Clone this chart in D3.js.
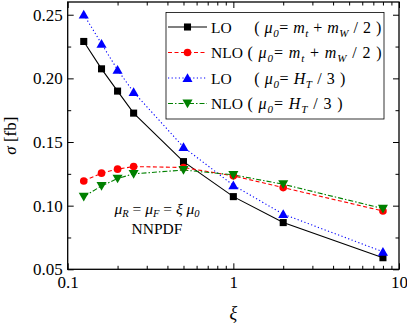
<!DOCTYPE html>
<html><head><meta charset="utf-8">
<script src="https://cdn.jsdelivr.net/npm/d3@7"></script>
<style>
html,body{margin:0;padding:0;background:#fff;}
svg{display:block;}
svg text{font-family:"Liberation Serif","Times New Roman",serif;}
</style></head>
<body><svg id="c" width="407" height="324"></svg>
<script>
const xi = [0.125, 0.16, 0.2, 0.25, 0.5, 1, 2, 8];
const loMt  = [0.229, 0.2075, 0.190, 0.1727, 0.1346, 0.1071, 0.0867, 0.0591];
const nloMt = [0.1194, 0.1255, 0.1287, 0.1307, 0.1300, 0.1234, 0.1142, 0.0958];
const loHt  = [0.2502, 0.2272, 0.2067, 0.1892, 0.1460, 0.1160, 0.0933, 0.0638];
const nloHt = [0.1071, 0.1155, 0.1213, 0.1250, 0.1280, 0.1242, 0.1168, 0.0977];
const xMajor = [0.1, 1, 10];
const xMajorLabels = ["0.1", "1", "10"];
const yMajor = [0.05, 0.10, 0.15, 0.20, 0.25];
const yMajorLabels = ["0.05", "0.10", "0.15", "0.20", "0.25"];
const seriesNames = ["LO", "NLO", "LO", "NLO"];

const L = 67.7, R = 399, T = 2, B = 269.3;
const svg = d3.select("#c");
const x = d3.scaleLog().domain([0.1, 10]).range([L, R]);
const y = d3.scaleLinear().domain([0.05, 0.26]).range([B, T]);

const series = [
  {name: seriesNames[0], vals: loMt, color: "#000000", dash: null, sym: d3.symbolSquare, size: 50, rot: 0, mu: "mt", px: 254.3, len: 127},
  {name: seriesNames[1], vals: nloMt, color: "#ff0000", dash: "4,2.5", sym: d3.symbolCircle, size: 46, rot: 0, mu: "mt", px: 247.5, len: 134},
  {name: seriesNames[2], vals: loHt, color: "#0000ff", dash: "1.2,2.4", sym: d3.symbolTriangle, size: 44, rot: 0, mu: "ht", px: 254.3, len: 91},
  {name: seriesNames[3], vals: nloHt, color: "#008000", dash: "5,2,1.5,2", sym: d3.symbolTriangle, size: 44, rot: 180, mu: "ht", px: 247.5, len: 95}
];

const xMinor = [];
[0.1, 1].forEach(d => { for (let k = 2; k <= 9; k++) xMinor.push(d * k); });
const yMinor = [0.075, 0.125, 0.175, 0.225];

const g = svg.append("g");
function inwardAxis(axisGen, transform) {
  const a = g.append("g").attr("transform", transform).call(axisGen);
  a.attr("font-family", null).attr("font-size", null);
  a.select(".domain").remove();
  a.selectAll("line").attr("stroke", "#000").attr("stroke-width", 1);
  return a;
}
const bMaj = inwardAxis(d3.axisBottom(x).tickValues(xMajor).tickSize(-6).tickFormat((d,i)=>xMajorLabels[i]).tickPadding(7), `translate(0,${B})`);
bMaj.selectAll("text").attr("font-size", 17).attr("fill", "#000");
inwardAxis(d3.axisBottom(x).tickValues(xMinor).tickSize(-3.5).tickFormat(""), `translate(0,${B})`);
inwardAxis(d3.axisTop(x).tickValues(xMajor).tickSize(-6).tickFormat(""), `translate(0,${T})`);
inwardAxis(d3.axisTop(x).tickValues(xMinor).tickSize(-3.5).tickFormat(""), `translate(0,${T})`);
const lMaj = inwardAxis(d3.axisLeft(y).tickValues(yMajor).tickSize(-6).tickFormat((d,i)=>yMajorLabels[i]).tickPadding(5), `translate(${L},0)`);
lMaj.selectAll("text").attr("font-size", 17).attr("fill", "#000");
inwardAxis(d3.axisLeft(y).tickValues(yMinor).tickSize(-3.5).tickFormat(""), `translate(${L},0)`);
inwardAxis(d3.axisRight(y).tickValues(yMajor).tickSize(-6).tickFormat(""), `translate(${R},0)`);
inwardAxis(d3.axisRight(y).tickValues(yMinor).tickSize(-3.5).tickFormat(""), `translate(${R},0)`);

g.append("rect").attr("x", L).attr("y", T).attr("width", R - L).attr("height", B - T)
  .attr("fill", "none").attr("stroke", "#000").attr("stroke-width", 1.3);

const line = d3.line().x(d => x(d[0])).y(d => y(d[1]));
series.forEach(s => {
  const pts = xi.map((v, i) => [v, s.vals[i]]);
  g.append("path").datum(pts).attr("d", line).attr("fill", "none")
    .attr("stroke", s.color).attr("stroke-width", 1.1)
    .attr("stroke-dasharray", s.dash);
});
series.forEach(s => {
  const sym = d3.symbol().type(s.sym).size(s.size);
  g.selectAll(null).data(xi.map((v, i) => [v, s.vals[i]])).enter().append("path")
    .attr("d", sym)
    .attr("transform", d => `translate(${x(d[0])},${y(d[1]) + (s.sym === d3.symbolTriangle ? (s.rot ? -1 : 1) : 0)}) rotate(${s.rot})`)
    .attr("fill", s.color);
});

// legend
const lg = svg.append("g");
lg.append("rect").attr("x", 166).attr("y", 12.5).attr("width", 218).attr("height", 106.5)
  .attr("fill", "#fff").attr("stroke", "#000").attr("stroke-width", 0.8);
const rowY = [27, 52.5, 78, 103.5];
series.forEach((s, i) => {
  const yy = rowY[i];
  lg.append("line").attr("x1", 168).attr("x2", 207).attr("y1", yy).attr("y2", yy)
    .attr("stroke", s.color).attr("stroke-width", 1.1).attr("stroke-dasharray", s.dash);
  lg.append("path").attr("d", d3.symbol().type(s.sym).size(s.size))
    .attr("transform", `translate(187.5,${yy + (s.sym === d3.symbolTriangle ? (s.rot ? -1 : 1) : 0)}) rotate(${s.rot})`)
    .attr("fill", s.color);
  lg.append("text").attr("x", 211).attr("y", yy + 5.5).attr("font-size", 15.5).text(s.name);
  const t = lg.append("text").attr("x", s.px).attr("y", yy + 5.5).attr("font-size", 16)
    .attr("textLength", s.len).attr("lengthAdjust", "spacing");
  t.append("tspan").text("( ");
  t.append("tspan").attr("font-style", "italic").text("μ");
  t.append("tspan").attr("font-style", "italic").attr("font-size", 11).attr("dy", 4).text("0");
  t.append("tspan").attr("dy", -4).text("= ");
  if (s.mu === "mt") {
    t.append("tspan").attr("font-style", "italic").text("m");
    t.append("tspan").attr("font-style", "italic").attr("font-size", 11).attr("dy", 4).text("t");
    t.append("tspan").attr("dy", -4).text(" + ");
    t.append("tspan").attr("font-style", "italic").text("m");
    t.append("tspan").attr("font-style", "italic").attr("font-size", 11).attr("dy", 4).text("W");
    t.append("tspan").attr("dy", -4).text(" / 2 )");
  } else {
    t.append("tspan").attr("font-style", "italic").text("H");
    t.append("tspan").attr("font-style", "italic").attr("font-size", 11).attr("dy", 4).text("T");
    t.append("tspan").attr("dy", -4).text(" / 3 )");
  }
});

// annotation
const an = svg.append("text").attr("x", 157).attr("y", 214).attr("text-anchor", "middle").attr("font-size", 15.5);
an.append("tspan").attr("font-style", "italic").text("μ");
an.append("tspan").attr("font-style", "italic").attr("font-size", 10.5).attr("dy", 3).text("R");
an.append("tspan").attr("dy", -3).text(" = ");
an.append("tspan").attr("font-style", "italic").text("μ");
an.append("tspan").attr("font-style", "italic").attr("font-size", 10.5).attr("dy", 3).text("F");
an.append("tspan").attr("dy", -3).text(" = ");
an.append("tspan").attr("font-style", "italic").text("ξ μ");
an.append("tspan").attr("font-style", "italic").attr("font-size", 10.5).attr("dy", 3).text("0");
svg.append("text").attr("x", 157).attr("y", 234).attr("text-anchor", "middle").attr("font-size", 15.5).text("NNPDF");

svg.append("text").attr("x", (L + R) / 2).attr("y", 319).attr("text-anchor", "middle")
  .attr("font-size", 18).attr("font-style", "italic").text("ξ");
const yt = svg.append("text").attr("transform", `translate(16,${(T + B) / 2}) rotate(-90)`)
  .attr("text-anchor", "middle").attr("font-size", 17);
yt.append("tspan").attr("font-style", "italic").text("σ");
yt.append("tspan").text(" [fb]");
</script></body></html>
